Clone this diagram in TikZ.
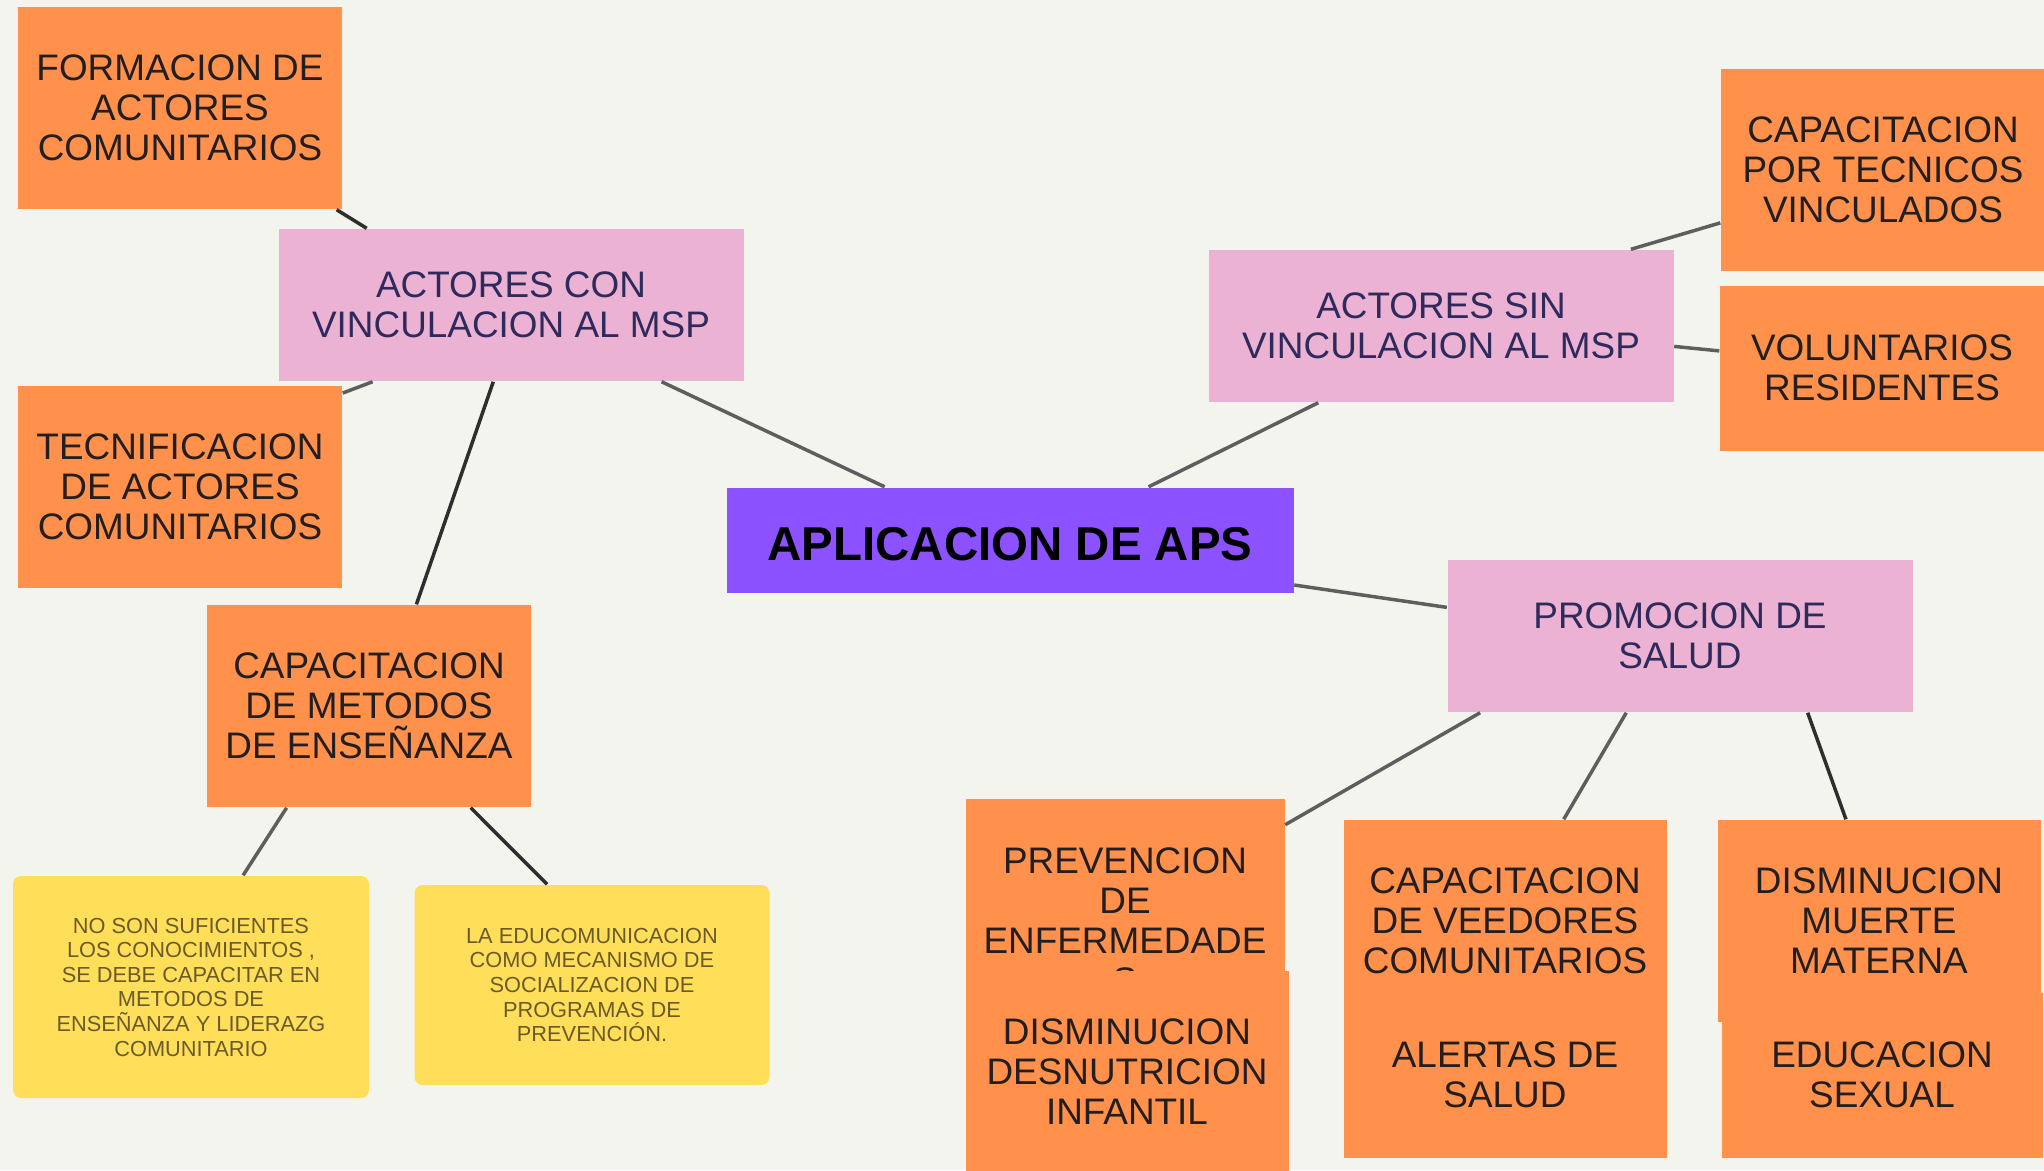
\documentclass[tikz,border=0pt]{standalone}
\usepackage{fontspec}
\setmainfont{Liberation Sans}
\definecolor{MapPaper}{HTML}{F4F4EF}
\definecolor{MapOrange}{HTML}{FF914D}
\definecolor{MapPink}{HTML}{EBB2D3}
\definecolor{MapViolet}{HTML}{8C52FF}
\definecolor{MapYellow}{HTML}{FFDE59}
\definecolor{MapInk}{HTML}{231F20}
\definecolor{MapNavy}{HTML}{2E2A5C}
\definecolor{MapOlive}{HTML}{6B5B2B}
\definecolor{MapLine}{HTML}{5E5E5E}
\definecolor{MapLineDark}{HTML}{2E2E2E}
\tikzset{
  every node/.style={text=MapInk, align=center, inner sep=0pt},
  idea/.style={fill=MapOrange, minimum width=32.4mm, minimum height=20.2mm, font=\fontsize{10.5}{11.4}\selectfont},
  idea short/.style={idea, minimum height=16.5mm},
  branch/.style={fill=MapPink, text=MapNavy, minimum width=46.5mm, minimum height=15.2mm, font=\fontsize{10.5}{11.4}\selectfont},
  hub/.style={fill=MapViolet, text=black, minimum width=56.7mm, minimum height=10.5mm, text height=4.1mm, font=\fontsize{13.5}{15}\selectfont\bfseries},
  note/.style={fill=MapYellow, text=MapOlive, rounded corners=0.8mm, font=\fontsize{6.2}{7}\selectfont},
  link/.style={draw=MapLine, line width=0.35mm},
  link dark/.style={link, draw=MapLineDark},
}
\begin{document}
\begin{tikzpicture}[x=0.1mm, y=-0.1mm]
  % Page, in pixels of the sketch
  \fill[MapPaper] (0,0) rectangle (2044,1170);
  \useasboundingbox (0,0) rectangle (2044,1170);
  % Left branch
  \node[idea] (form) at (180,108) {FORMACION DE\\ACTORES\\COMUNITARIOS};
  \node[branch] (con) at (511,305) {ACTORES CON\\VINCULACION AL MSP};
  \node[idea] (tec) at (180,487) {TECNIFICACION\\DE ACTORES\\COMUNITARIOS};
  \node[idea] (met) at (369,706) {CAPACITACION\\DE METODOS\\DE ENSEÑANZA};
  \node[note, minimum width=35.6mm, minimum height=22.2mm] (noson) at (191,987)
    {NO SON SUFICIENTES\\LOS CONOCIMIENTOS ,\\SE DEBE CAPACITAR EN\\METODOS DE\\ENSEÑANZA Y LIDERAZG\\COMUNITARIO};
  \node[note, minimum width=35.5mm, minimum height=20mm] (educom) at (592,985)
    {LA EDUCOMUNICACION\\COMO MECANISMO DE\\SOCIALIZACION DE\\PROGRAMAS DE\\PREVENCIÓN.};
  % Centre
  \node[hub] (aps) at (1010,540) {APLICACION DE APS};
  % Right branch
  \node[branch] (sin) at (1441,326) {ACTORES SIN\\VINCULACION AL MSP};
  \node[idea] (tecv) at (1883,170) {CAPACITACION\\POR TECNICOS\\VINCULADOS};
  \node[idea short] (vol) at (1882,368) {VOLUNTARIOS\\RESIDENTES};
  \node[branch] (prom) at (1680,636) {PROMOCION DE\\SALUD};
  % Lower cards, the later ones lie over the earlier ones
  \node[idea, minimum width=31.9mm, minimum height=24.4mm] (prev) at (1125,921) {PREVENCION\\DE\\ENFERMEDADE\\S};
  \node[idea, minimum width=32.3mm] (desn) at (1127,1072) {DISMINUCION\\DESNUTRICION\\INFANTIL};
  \node[idea, minimum width=32.3mm] (veed) at (1505,921) {CAPACITACION\\DE VEEDORES\\COMUNITARIOS};
  \node[idea short, minimum width=32.3mm] (alert) at (1505,1075) {ALERTAS DE\\SALUD};
  \node[idea short, minimum width=32.1mm] (sex) at (1882,1075) {EDUCACION\\SEXUAL};
  \node[idea, minimum width=32.3mm] (mat) at (1879,921) {DISMINUCION\\MUERTE\\MATERNA};
  % Connectors
  \draw[link dark] (form.-33) -- (con.152);
  \draw[link] (tec.30) -- (con.209);
  \draw[link dark] (con.257) -- (met.65);
  \draw[link] (con.-27) -- (aps.157);
  \draw[link] (met.231) -- (noson.65);
  \draw[link dark] (met.-45) -- (educom.114);
  \draw[link] (aps.21) -- (sin.212);
  \draw[link] (sin.22) -- (tecv.198);
  \draw[link] (sin.-5) -- (vol.174);
  \draw[link] (aps.-9) -- (prom.173);
  \draw[link] (prom.201) -- (prev.31);
  \draw[link] (prom.235) -- (veed.60);
  \draw[link dark] (prom.-31) -- (mat.108);
\end{tikzpicture}
\end{document}
